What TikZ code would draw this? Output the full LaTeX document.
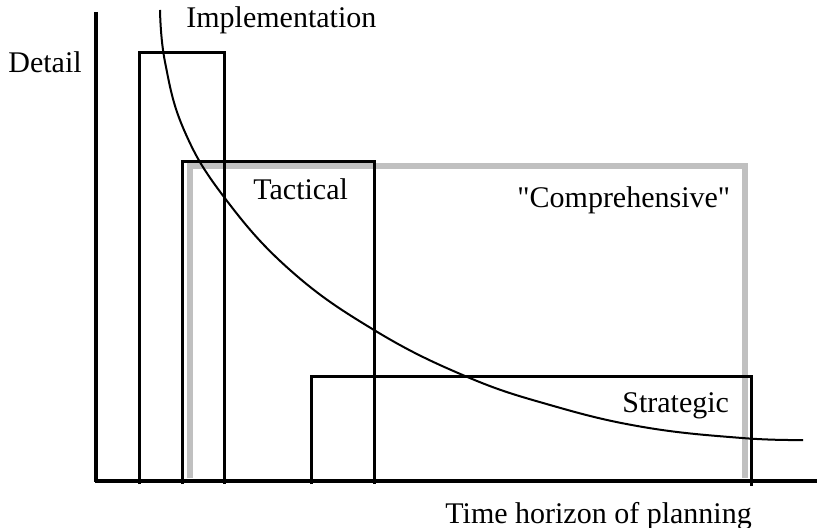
\documentclass[tikz,border=0pt]{standalone}
\usepackage{fontspec}
\setmainfont{Liberation Serif}
\usepackage{xcolor}
\definecolor{colGrey}{RGB}{192, 192, 192}
\usepackage{tikz}
\usetikzlibrary{positioning}

\begin{document}
\begin{tikzpicture}[
		x=0.5pt, y=-0.5pt,
		font=\fontsize{15}{18}\selectfont,
		axisline/.style={line width=1.6pt, black},
		frame/.style={line width=1.5pt, black},
		wideframe/.style={line width=2.8pt, colGrey},
		trend/.style={line width=1pt, black},
		lbl/.style={anchor=base west, inner sep=0pt}
		]
		\useasboundingbox (0,0) rectangle (817,528);

		\draw[wideframe] (190,478) -- (190,166) -- (745,166) -- (745,478);

		\draw[frame] (139,484) -- (139,53) -- (224,53) -- (224,484);
		\draw[frame] (182,484) -- (182,162) -- (374,162) -- (374,484);
		\draw[frame] (311,484) -- (311,376) -- (751,376) -- (751,486);

		\draw[axisline] (96,12) -- (96,482);
		\draw[axisline] (95,481) -- (817,481);

		\draw[trend] plot[smooth, tension=0.7] coordinates {
			(160,10) (165,62) (184,130) (224,197) (290,270) (374,330)
			(465,376) (550,405) (643,427) (742,438) (803,440)};

		\node[lbl] (detail)  at (8,73)    {Detail};
		\node[lbl] (impl)    at (186,28)  {Implementation};
		\node[lbl] (tact)    at (253,200) {Tactical};
		\node[lbl] (compr)   at (517,208) {\textquotedbl Comprehensive\textquotedbl};
		\node[lbl] (strat)   at (622,412) {Strategic};
		\node[lbl] (horizon) at (445,523) {Time horizon of planning};
	\end{tikzpicture}
\end{document}
